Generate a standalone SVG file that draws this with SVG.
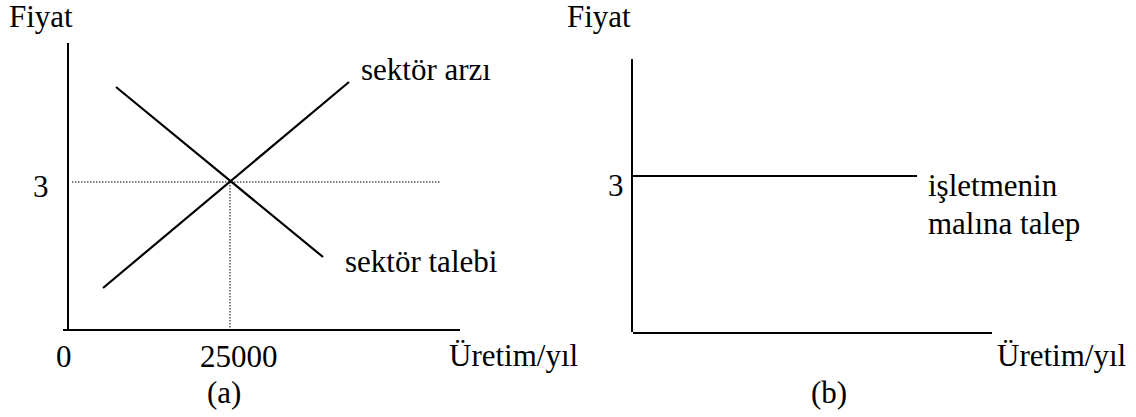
<svg xmlns="http://www.w3.org/2000/svg" width="1136" height="417" viewBox="0 0 1136 417">
  <style>
    .lbl { font-family: 'Liberation Serif', serif; font-size: 31px; fill: #000; }
    .axis { stroke: #000; stroke-width: 2; fill: none; }
    .curve { stroke: #000; stroke-width: 2.2; fill: none; }
    .guide { stroke: #000; stroke-width: 1; stroke-dasharray: 1.5 1.5; fill: none; }
  </style>
  <rect width="1136" height="417" fill="#fff"/>

  <!-- Panel (a): industry supply and demand -->
  <g id="panel-a">
    <g id="axes-a">
      <line class="axis" x1="68" y1="43" x2="68" y2="331"/>
      <line class="axis" x1="63" y1="330" x2="460" y2="330"/>
    </g>
    <g id="connectors-a">
      <line class="guide" x1="72" y1="182" x2="440" y2="182"/>
      <line class="guide" x1="230" y1="182" x2="230" y2="330"/>
      <line id="demand" class="curve" x1="116" y1="87" x2="323" y2="257"/>
      <line id="supply" class="curve" x1="103" y1="288" x2="349" y2="82"/>
    </g>
    <g id="labels-a">
      <text class="lbl" x="9" y="27">Fiyat</text>
      <text class="lbl" x="33" y="197">3</text>
      <text class="lbl" x="56" y="367">0</text>
      <text class="lbl" x="200" y="367">25000</text>
      <text class="lbl" x="449" y="366">Üretim/yıl</text>
      <text class="lbl" x="207" y="403">(a)</text>
      <text class="lbl" x="361" y="80">sektör arzı</text>
      <text class="lbl" x="345" y="272">sektör talebi</text>
    </g>
  </g>

  <!-- Panel (b): demand facing the single firm -->
  <g id="panel-b">
    <g id="axes-b">
      <line class="axis" x1="632" y1="59" x2="632" y2="332"/>
      <line class="axis" x1="633" y1="333" x2="992" y2="333"/>
    </g>
    <g id="connectors-b">
      <line id="firm-demand" class="curve" x1="633" y1="176" x2="917" y2="176"/>
    </g>
    <g id="labels-b">
      <text class="lbl" x="567" y="27">Fiyat</text>
      <text class="lbl" x="608" y="196">3</text>
      <text class="lbl" x="928" y="196">işletmenin</text>
      <text class="lbl" x="928" y="234">malına talep</text>
      <text class="lbl" x="997" y="366">Üretim/yıl</text>
      <text class="lbl" x="811" y="403">(b)</text>
    </g>
  </g>
</svg>
